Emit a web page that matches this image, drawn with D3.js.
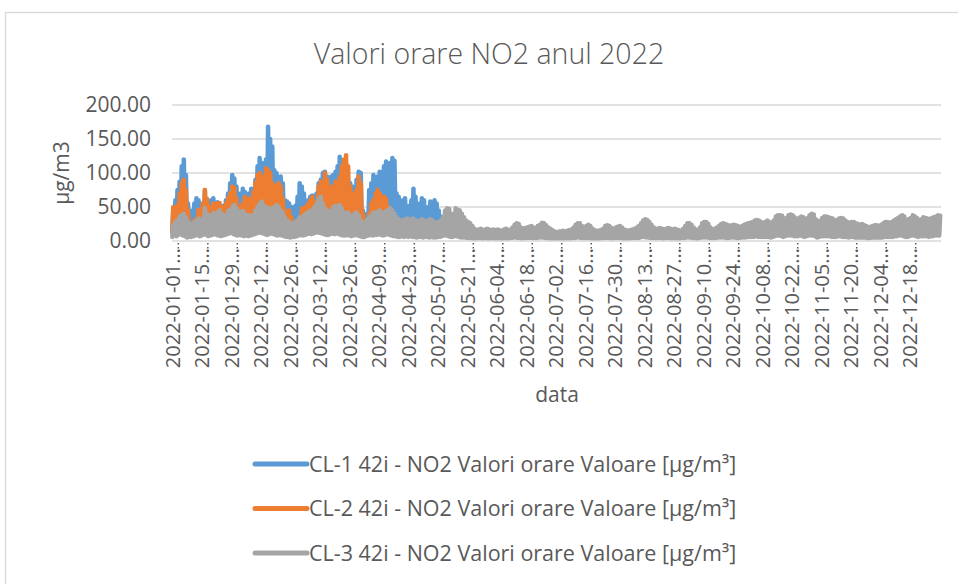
<!DOCTYPE html>
<html>
<head>
<meta charset="utf-8">
<script src="https://cdn.jsdelivr.net/npm/d3@7"></script>
<style>
  html, body { margin: 0; padding: 0; background: #fff; }
  svg { display: block; font-family: "Open Sans", "Noto Sans", sans-serif; }
</style>
</head>
<body>
<div id="chart"></div>
<script>
// daily peaks / night lows (µg/m3), day 0 = 2022-01-01
const cl1Peaks = [
  46, 60, 75, 87, 110, 120, 97,
  55, 40, 45, 55, 63, 60, 50,
  55, 75, 60, 52, 60, 63, 55,
  57, 50, 45, 52, 60, 70, 85,
  97, 92, 80, 65, 70, 77, 72,
  65, 70, 77, 75, 90, 110, 122,
  115, 105, 120, 168, 150, 139, 104,
  100, 90, 95, 85, 60, 58, 55,
  50, 45, 52, 65, 85, 80, 70,
  55, 60, 65, 67, 60, 70, 85,
  90, 100, 102, 95, 85, 95, 97,
  102, 110, 124, 115, 105, 95, 90,
  85, 80, 77, 90, 102, 100, 45,
  30, 40, 75, 85, 97, 90, 95,
  102, 100, 110, 117, 110, 115, 122,
  118, 70, 65, 55, 60, 63, 50,
  52, 60, 77, 65, 50, 55, 63,
  60, 45, 50, 58, 52, 60, 55,
  45, 36, 30, 25
];
const cl1Lows = [
  15, 18, 20, 22, 25, 24, 20, 14, 12, 13, 15, 16, 15, 14,
  15, 18, 16, 15, 16, 17, 16, 15, 14, 13, 15, 16, 18, 22,
  25, 24, 20, 18, 19, 20, 19, 18, 19, 20, 21, 24, 28, 30,
  28, 27, 30, 35, 32, 30, 26, 25, 24, 23, 22, 18, 16, 15,
  14, 13, 14, 16, 20, 20, 18, 16, 17, 18, 17, 18, 22, 24,
  25, 26, 27, 25, 23, 24, 25, 26, 28, 30, 28, 26, 25, 24,
  22, 21, 20, 22, 25, 24, 14, 10, 12, 18, 20, 24, 23, 24,
  26, 25, 27, 28, 27, 28, 30, 28, 20, 18, 16, 17, 18, 15,
  15, 17, 20, 18, 15, 16, 18, 17, 14, 15, 16, 15, 17, 15,
  14, 12, 11, 10
];
const cl2Peaks = [
  50, 45, 52, 70, 85, 90, 75,
  45, 25, 22, 30, 33, 46, 40,
  55, 75, 62, 50, 45, 55, 50,
  55, 56, 50, 46, 55, 63, 70,
  80, 78, 62, 45, 50, 55, 65,
  60, 62, 60, 72, 85, 97, 100,
  90, 95, 107, 104, 100, 85, 80,
  82, 85, 80, 62, 45, 40, 45,
  35, 25, 21, 30, 35, 48, 45,
  50, 55, 60, 65, 58, 50, 80,
  87, 85, 100, 90, 80, 75, 80,
  87, 85, 95, 110, 120, 126, 110,
  80, 70, 65, 75, 95, 85, 40,
  16, 25, 40, 55, 60, 70, 75,
  70, 60, 65, 62, 50, 35
];
const cl2Lows = [
  12, 14, 15, 18, 20, 19, 16, 11, 9, 8, 10, 11, 12, 11,
  12, 15, 13, 12, 12, 13, 12, 12, 11, 10, 12, 13, 15, 18,
  20, 19, 16, 13, 14, 15, 15, 14, 15, 16, 17, 20, 23, 25,
  23, 22, 25, 27, 25, 22, 20, 20, 19, 18, 16, 13, 11, 11,
  10, 9, 8, 10, 11, 13, 12, 12, 13, 14, 13, 13, 18, 20,
  21, 22, 23, 21, 19, 18, 19, 21, 22, 24, 26, 27, 25, 22,
  18, 16, 15, 17, 20, 19, 10, 6, 8, 12, 14, 17, 18, 18,
  17, 15, 16, 15, 13, 10
];
const cl3Peaks = [
  23, 28, 30, 36, 38, 40, 35, 28, 26, 25, 28, 30, 33, 30,
  33, 48, 40, 35, 38, 41, 40, 42, 45, 40, 38, 36, 44, 46,
  50, 53, 48, 44, 42, 44, 40, 38, 38, 36, 38, 45, 50, 55,
  58, 52, 50, 48, 47, 48, 50, 53, 50, 45, 42, 35, 30, 28,
  26, 25, 28, 30, 35, 33, 38, 40, 42, 45, 44, 50, 55, 62,
  65, 55, 48, 45, 42, 45, 50, 52, 50, 53, 48, 42, 40, 42,
  38, 35, 40, 42, 38, 30, 26, 28, 32, 35, 38, 42, 40, 43,
  45, 42, 40, 44, 46, 48, 45, 40, 35, 32, 30, 30, 32, 33,
  30, 32, 33, 30, 28, 30, 32, 30, 28, 30, 32, 30, 28, 26,
  28, 30, 35, 45, 48, 47, 40, 38, 48, 46, 45, 40, 35, 30,
  28, 26, 22, 18, 16, 17, 18, 16, 17, 18, 17, 16, 17, 16,
  17, 16, 15, 17, 18, 16, 17, 20, 24, 26, 25, 20, 18, 19,
  20, 21, 22, 20, 19, 22, 24, 27, 26, 23, 20, 18, 16, 14,
  13, 14, 14, 15, 14, 15, 16, 17, 20, 24, 26, 26, 22, 20,
  22, 24, 22, 18, 16, 15, 15, 16, 18, 22, 23, 22, 19, 18,
  20, 21, 22, 20, 17, 16, 15, 16, 17, 18, 20, 22, 26, 30,
  32, 31, 28, 24, 20, 18, 18, 19, 18, 17, 18, 19, 18, 17,
  18, 17, 16, 15, 18, 22, 26, 26, 24, 20, 17, 16, 20, 26,
  28, 28, 25, 20, 17, 18, 20, 22, 25, 26, 25, 24, 22, 23,
  24, 23, 22, 20, 22, 24, 25, 26, 27, 28, 30, 31, 30, 28,
  27, 28, 30, 28, 25, 30, 36, 38, 38, 37, 30, 34, 38, 39,
  38, 35, 32, 34, 36, 35, 30, 34, 38, 40, 39, 32, 25, 30,
  34, 36, 36, 35, 34, 33, 30, 31, 33, 34, 33, 30, 28, 27,
  28, 28, 26, 25, 24, 25, 23, 22, 20, 21, 22, 23, 23, 22,
  24, 26, 28, 28, 27, 28, 30, 32, 34, 36, 38, 36, 30, 32,
  34, 38, 36, 34, 30, 32, 35, 34, 33, 32, 34, 35, 36, 38, 37
];
const cl3Lows = [
  6, 8, 7, 9, 10, 8, 7, 5, 6, 6, 7, 8, 9, 7,
  8, 10, 9, 7, 8, 9, 10, 9, 8, 7, 8, 9, 10, 11,
  12, 10, 9, 8, 9, 8, 7, 8, 7, 8, 9, 10, 11, 12,
  12, 11, 10, 9, 10, 11, 10, 9, 8, 9, 8, 7, 6, 6,
  5, 6, 6, 7, 8, 9, 8, 9, 10, 11, 10, 11, 12, 13,
  12, 11, 10, 9, 9, 10, 11, 10, 11, 10, 9, 8, 8, 9,
  8, 7, 8, 9, 8, 7, 6, 6, 7, 8, 9, 8, 9, 9,
  10, 9, 8, 9, 10, 9, 8, 7, 7, 6, 6, 7, 6, 7,
  6, 7, 6, 6, 5, 6, 6, 5, 6, 6, 5, 6, 5, 5,
  6, 6, 7, 8, 8, 7, 6, 6, 7, 7, 6, 5, 5, 5,
  4, 4, 4, 3, 3, 4, 4, 3, 4, 4, 3, 3, 4, 3,
  3, 4, 3, 3, 4, 3, 4, 4, 5, 5, 4, 4, 3, 4,
  4, 4, 5, 4, 4, 4, 5, 5, 5, 4, 4, 3, 3, 3,
  3, 3, 3, 3, 3, 3, 4, 3, 4, 4, 5, 5, 4, 4,
  4, 4, 4, 3, 3, 3, 3, 3, 4, 4, 5, 4, 4, 3,
  4, 4, 4, 4, 3, 3, 3, 3, 4, 4, 4, 4, 5, 6,
  6, 5, 5, 4, 4, 4, 4, 4, 4, 3, 4, 4, 4, 3,
  4, 3, 3, 3, 4, 4, 5, 5, 5, 4, 4, 3, 4, 5,
  5, 5, 5, 4, 4, 4, 4, 5, 5, 5, 5, 4, 4, 5,
  5, 5, 4, 4, 5, 5, 5, 6, 6, 6, 6, 7, 6, 6,
  6, 6, 6, 6, 5, 6, 7, 8, 8, 7, 6, 7, 8, 8,
  8, 7, 7, 7, 8, 7, 6, 7, 8, 8, 8, 7, 5, 6,
  7, 7, 7, 7, 7, 6, 6, 6, 7, 7, 6, 6, 6, 5,
  6, 6, 5, 5, 5, 5, 5, 5, 4, 4, 5, 5, 5, 5,
  5, 5, 6, 6, 6, 6, 6, 7, 7, 8, 8, 7, 6, 6,
  7, 8, 8, 7, 6, 7, 7, 7, 7, 6, 7, 7, 8, 8, 8
];

const seriesNames = [
  "CL-1 42i - NO2 Valori orare Valoare [µg/m³]",
  "CL-2 42i - NO2 Valori orare Valoare [µg/m³]",
  "CL-3 42i - NO2 Valori orare Valoare [µg/m³]"
];
const seriesColors = ["#5b9bd5", "#ed7d31", "#a5a5a5"];

// category labels as Excel printed them, one every 14 days
const xLabels = [
  "2022-01-01", "2022-01-15", "2022-01-29", "2022-02-12", "2022-02-26",
  "2022-03-12", "2022-03-26", "2022-04-09", "2022-04-23", "2022-05-07",
  "2022-05-21", "2022-06-04", "2022-06-18", "2022-07-02", "2022-07-16",
  "2022-07-30", "2022-08-13", "2022-08-27", "2022-09-10", "2022-09-24",
  "2022-10-08", "2022-10-22", "2022-11-05", "2022-11-20", "2022-12-04",
  "2022-12-18"
];
const yTicks = [0, 50, 100, 150, 200];

const width = 958, height = 584;
const plot = { left: 172, right: 941, top: 105, bottom: 241 };
const textColor = "#595959";
const gridColor = "#d9d9d9";

const svg = d3.select("#chart").append("svg")
  .attr("width", width)
  .attr("height", height);

// chart area border
svg.append("rect")
  .attr("x", 5.5).attr("y", 12.5)
  .attr("width", 1000).attr("height", 700)
  .attr("fill", "#fff")
  .attr("stroke", gridColor)
  .attr("stroke-width", 1.3);

const x = d3.scaleLinear().domain([0, 365]).range([plot.left, plot.right]);
const y = d3.scaleLinear().domain([0, 200]).range([plot.bottom, plot.top]);

// title
svg.append("text")
  .attr("x", 489).attr("y", 64)
  .attr("text-anchor", "middle")
  .style("font-size", "28.5px")
  .style("font-weight", 300)
  .style("fill", textColor)
  .text("Valori orare NO2 anul 2022");

// gridlines
svg.append("g")
  .selectAll("line")
  .data(yTicks.filter(d => d > 0))
  .join("line")
  .attr("x1", plot.left).attr("x2", plot.right)
  .attr("y1", d => y(d)).attr("y2", d => y(d))
  .attr("stroke", gridColor)
  .attr("stroke-width", 1.3);

// y labels
svg.append("g")
  .selectAll("text")
  .data(yTicks)
  .join("text")
  .attr("x", 151)
  .attr("y", d => y(d))
  .attr("dy", "0.35em")
  .attr("text-anchor", "end")
  .style("font-size", "21px")
  .style("fill", textColor)
  .text(d3.format(".2f"));

svg.append("text")
  .attr("transform", `translate(69,${(plot.top + plot.bottom) / 2}) rotate(-90)`)
  .attr("text-anchor", "middle")
  .style("font-size", "21px")
  .style("fill", textColor)
  .text("µg/m3");

// series: one low and one peak per day, drawn like the dense hourly line
function points(peaks, lows) {
  const pts = [];
  peaks.forEach((p, i) => {
    pts.push([i + 0.15, lows[i]]);
    pts.push([i + 0.6, p]);
  });
  return pts;
}
const line = d3.line().x(d => x(d[0])).y(d => y(d[1]));
const series = [
  points(cl1Peaks, cl1Lows),
  points(cl2Peaks, cl2Lows),
  points(cl3Peaks, cl3Lows)
];

svg.append("g")
  .selectAll("path")
  .data(series)
  .join("path")
  .attr("d", line)
  .attr("fill", "none")
  .attr("stroke", (d, i) => seriesColors[i])
  .attr("stroke-width", 4.5)
  .attr("stroke-linejoin", "round")
  .attr("stroke-linecap", "round");

// x axis line and dotted ticks
svg.append("line")
  .attr("x1", plot.left).attr("x2", plot.right)
  .attr("y1", plot.bottom).attr("y2", plot.bottom)
  .attr("stroke", gridColor)
  .attr("stroke-width", 1.3);

svg.append("g")
  .selectAll("line")
  .data(xLabels)
  .join("line")
  .attr("x1", (d, i) => x(i * 14 + 3)).attr("x2", (d, i) => x(i * 14 + 3))
  .attr("y1", plot.bottom + 2).attr("y2", plot.bottom + 11)
  .attr("stroke", "#595959")
  .attr("stroke-width", 1.5)
  .attr("stroke-dasharray", "1.5,2.5");

svg.append("g")
  .selectAll("text")
  .data(xLabels)
  .join("text")
  .attr("transform", (d, i) => `translate(${x(i * 14) + 1},248) rotate(-90)`)
  .attr("text-anchor", "end")
  .attr("dy", "0.35em")
  .style("font-size", "20px")
  .style("fill", textColor)
  .text(d => d + "...");

svg.append("text")
  .attr("x", 557).attr("y", 402)
  .attr("text-anchor", "middle")
  .style("font-size", "21px")
  .style("fill", textColor)
  .text("data");

// legend
const legend = svg.append("g")
  .selectAll("g")
  .data(seriesNames)
  .join("g")
  .attr("transform", (d, i) => `translate(253,${464 + i * 44.5})`);

legend.append("line")
  .attr("x1", 2).attr("x2", 54)
  .attr("stroke", (d, i) => seriesColors[i])
  .attr("stroke-width", 5)
  .attr("stroke-linecap", "round");

legend.append("text")
  .attr("x", 56)
  .attr("dy", "0.35em")
  .style("font-size", "21.5px")
  .style("fill", textColor)
  .text(d => d);
</script>
</body>
</html>
